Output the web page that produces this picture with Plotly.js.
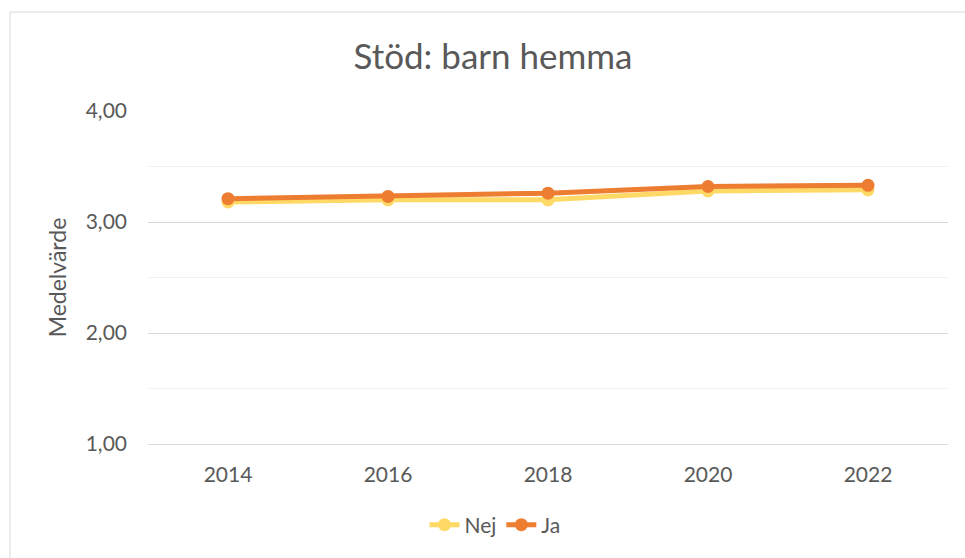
<!DOCTYPE html>
<html>
<head>
<meta charset="utf-8">
<script src="https://cdn.plot.ly/plotly-3.0.1.min.js"></script>
<style>
html,body{margin:0;padding:0;background:#fff;overflow:hidden;}
#chart{width:965px;height:558px;}
</style>
</head>
<body>
<div id="chart"></div>
<script>
const chartTitle = 'Stöd: barn hemma';
const yTitle = 'Medelvärde';
const years = ['2014', '2016', '2018', '2020', '2022'];
const nej = [3.18, 3.20, 3.20, 3.28, 3.29];
const ja = [3.21, 3.23, 3.26, 3.32, 3.33];
const seriesNames = ['Nej', 'Ja'];
const seriesColors = ['#FFD966', '#ED7D31'];

const FONT = 'Lato, "Open Sans", sans-serif';
const TXT = '#595959';

const traces = [nej, ja].map((vals, i) => ({
  type: 'scatter',
  mode: 'lines+markers',
  name: seriesNames[i],
  x: years,
  y: vals,
  line: {color: seriesColors[i], width: 5},
  marker: {color: seriesColors[i], size: 13}
}));

const layout = {
  width: 965,
  height: 558,
  margin: {l: 148, r: 17, t: 111, b: 114},
  paper_bgcolor: '#ffffff',
  plot_bgcolor: '#ffffff',
  separators: ',.',
  font: {family: FONT, color: TXT, size: 21},
  title: {
    text: chartTitle,
    font: {family: FONT, size: 35, color: TXT},
    x: 493 / 965, xref: 'container', xanchor: 'center',
    y: 1 - 57 / 558, yref: 'container', yanchor: 'middle'
  },
  xaxis: {
    type: 'category',
    range: [-0.5, years.length - 0.5],
    showgrid: false,
    showline: true,
    linecolor: '#d9d9d9',
    linewidth: 1,
    ticks: '',
    ticklabelstandoff: 12,
    tickfont: {family: FONT, size: 21, color: TXT},
    zeroline: false
  },
  yaxis: {
    range: [1, 4],
    dtick: 1,
    tick0: 1,
    tickformat: '.2f',
    gridcolor: '#d9d9d9',
    gridwidth: 1,
    showline: false,
    zeroline: false,
    ticks: '',
    ticklabelstandoff: 20,
    tickfont: {family: FONT, size: 21, color: TXT},
    minor: {dtick: 0.5, tick0: 1, showgrid: true, gridcolor: '#f2f2f2', gridwidth: 1},
    title: {text: yTitle, font: {family: FONT, size: 23, color: TXT}, standoff: 12}
  },
  legend: {
    orientation: 'h',
    x: (495 - 148) / 800, xanchor: 'center',
    y: (444 - 525) / 333, yanchor: 'middle',
    font: {family: FONT, size: 21, color: TXT},
    bgcolor: 'rgba(0,0,0,0)',
    traceorder: 'normal'
  },
  showlegend: true,
  shapes: [{
    type: 'rect', xref: 'paper', yref: 'paper',
    x0: (10 - 148) / 800, x1: 1.2,
    y0: -1, y1: (444 - 12) / 333,
    line: {color: '#d9d9d9', width: 1},
    fillcolor: 'rgba(0,0,0,0)',
    layer: 'below'
  }]
};

Plotly.newPlot('chart', traces, layout, {displayModeBar: false, staticPlot: true});
</script>
</body>
</html>
